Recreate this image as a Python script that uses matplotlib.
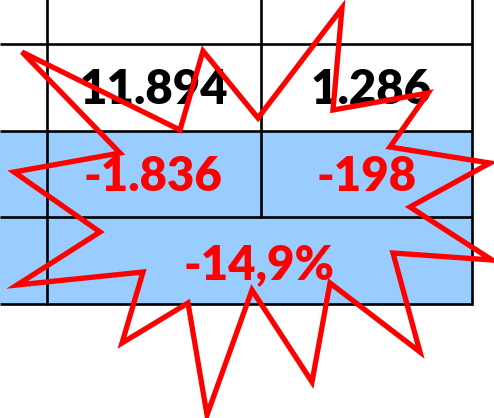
import matplotlib.pyplot as plt
from matplotlib.patches import Rectangle, Polygon

# table content
row_values = ["11.894", "1.286"]
row_diff = ["-1.836", "-198"]
pct_text = "-14,9%"

# table grid (pixel coords)
col_edges = [0, 47, 261, 472]
row_edges = [0, 44, 131, 217, 304]

# starburst outline
star_x = [342, 333, 428, 390, 490, 410, 492, 393, 420, 330, 312, 252, 207, 188,
          122, 143, 17, 100, 14, 120, 22, 180, 203, 258]
star_y = [8, 110, 93, 147, 163, 207, 260, 253, 352, 283, 382, 290, 415, 303,
          343, 272, 285, 232, 172, 153, 52, 130, 51, 118]

fig = plt.figure(figsize=(4.94, 4.18), dpi=100)
ax = fig.add_axes([0, 0, 1, 1])
ax.set_xlim(0, 494)
ax.set_ylim(418, 0)
ax.axis('off')

blue = '#99CCFF'
# blue rows
ax.add_patch(Rectangle((col_edges[0], row_edges[2]), col_edges[3] - col_edges[0],
                       row_edges[4] - row_edges[2], facecolor=blue, edgecolor='none'))

lw = 1.9
# horizontal lines
for y in row_edges[1:]:
    ax.plot([col_edges[0], col_edges[3]], [y, y], color='black', lw=lw, solid_capstyle='butt')
# vertical lines
ax.plot([col_edges[1]] * 2, [row_edges[0], row_edges[4]], color='black', lw=lw)
ax.plot([col_edges[2]] * 2, [row_edges[0], row_edges[3]], color='black', lw=lw)
ax.plot([col_edges[3]] * 2, [row_edges[0], row_edges[4]], color='black', lw=lw)

fs = 34
wt = 'heavy'
for i, v in enumerate(row_values):
    cx = (col_edges[i + 1] + col_edges[i + 2]) / 2
    ax.text(cx + (0 if i == 0 else 5), 90, v, ha='center', va='center', fontsize=fs,
            fontfamily='Lato', fontweight=wt, color='black')
for i, v in enumerate(row_diff):
    cx = (col_edges[i + 1] + col_edges[i + 2]) / 2
    ax.text(cx - (1 if i == 0 else 0), 177, v, ha='center', va='center', fontsize=fs,
            fontfamily='Lato', fontweight=wt, color='#FF0000')
ax.text(259, 265, pct_text, ha='center', va='center', fontsize=fs,
        fontfamily='Lato', fontweight=wt, color='#FF0000')

star = Polygon(list(zip(star_x, star_y)), closed=True, fill=False,
               edgecolor='#FF0000', lw=3.8, joinstyle='miter', zorder=5)
ax.add_patch(star)

fig.savefig('out.png', dpi=100)
